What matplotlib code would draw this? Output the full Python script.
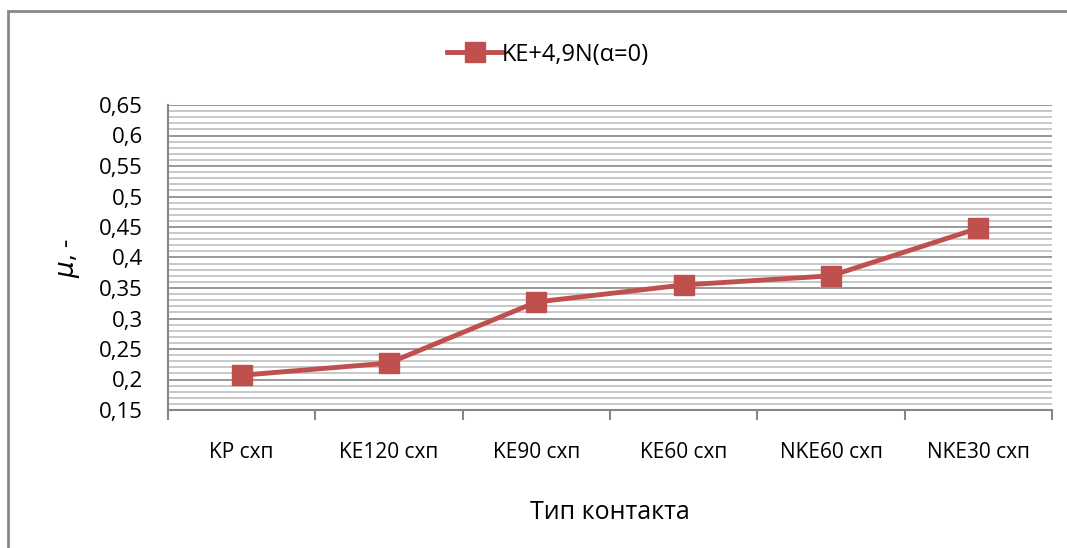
import matplotlib.pyplot as plt
import numpy as np
from matplotlib.patches import Rectangle
from matplotlib.ticker import MultipleLocator, FuncFormatter

plt.rcParams['font.family'] = ['Open Sans', 'DejaVu Sans']

# data
contacts = ['KP схп', 'KE120 схп', 'KE90 схп', 'KE60 схп', 'NKE60 схп', 'NKE30 схп']
mu = [0.207, 0.227, 0.327, 0.355, 0.370, 0.448]
series_name = 'KE+4,9N(α=0)'

red = '#C0504D'

fig = plt.figure(figsize=(10.67, 5.48), dpi=100)
ax = fig.add_axes([168 / 1067, 1 - 410 / 548, (1052 - 168) / 1067, (410 - 105) / 548])

x = np.arange(len(contacts))
ax.plot(x, mu, color=red, lw=3.5, marker='s', markersize=15,
        markerfacecolor=red, markeredgecolor=red, label=series_name, zorder=5)

ax.set_xlim(-0.5, len(contacts) - 0.5)
ax.set_ylim(0.15, 0.65)

# grid lines like excel: major every 0.05, minor every 0.01
ax.yaxis.set_major_locator(MultipleLocator(0.05))
ax.yaxis.set_minor_locator(MultipleLocator(0.01))
ax.grid(axis='y', which='major', color='#868686', lw=1.2, zorder=1)
ax.grid(axis='y', which='minor', color='#BFBFBF', lw=1.2, zorder=0)
ax.yaxis.set_major_formatter(FuncFormatter(lambda v, p: ('%g' % round(v, 2)).replace('.', ',')))
ax.tick_params(axis='y', which='both', length=0, labelsize=16, pad=18)

ax.set_xticks(x)
ax.set_xticklabels(contacts)
ax.set_xticks(np.arange(-0.5, len(contacts)), minor=True)
ax.tick_params(axis='x', which='major', length=0, labelsize=15, pad=23)
ax.tick_params(axis='x', which='minor', length=7, width=1.5, color='#868686', direction='out')

for s in ['top', 'right']:
    ax.spines[s].set_visible(False)
for s in ['left', 'bottom']:
    ax.spines[s].set_color('#868686')
    ax.spines[s].set_linewidth(1.5)

ax.set_xlabel('Тип контакта', fontsize=18, labelpad=27)
ax.set_ylabel(r'$\mu$, -', fontsize=19, labelpad=12)

ax.legend(loc='center', bbox_to_anchor=(0.43, 1.165), frameon=False,
          fontsize=17, handlelength=2.3, handletextpad=0.0, borderaxespad=0)

# outer chart border
fig.patches.append(Rectangle((7.5 / 1067, -0.1), 1.2, 1 - 11.5 / 548 + 0.1,
                             transform=fig.transFigure, fill=False,
                             edgecolor='#878787', lw=2))

fig.savefig('out.png', dpi=100)
